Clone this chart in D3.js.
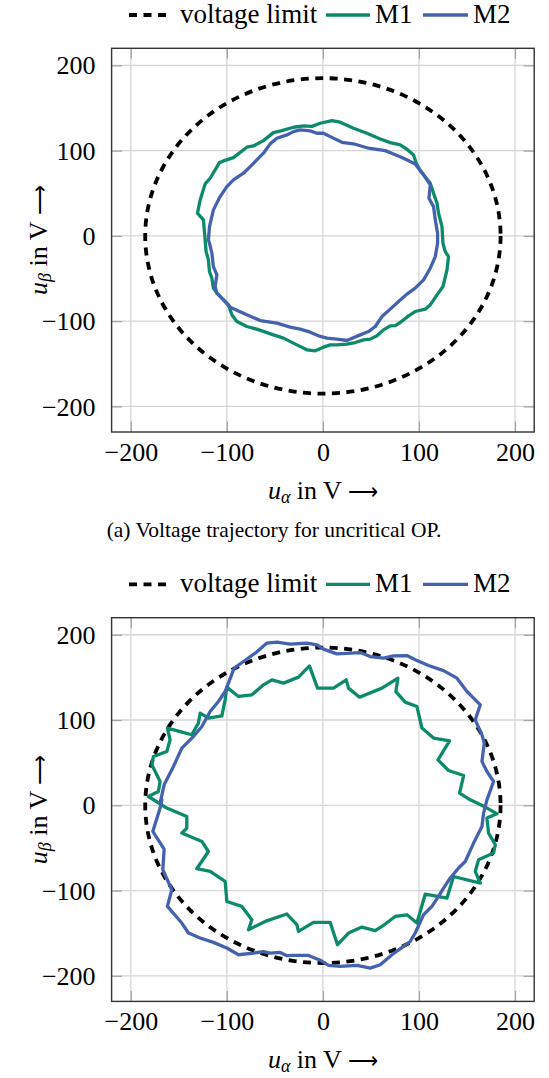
<!DOCTYPE html>
<html><head><meta charset="utf-8">
<script src="https://cdn.jsdelivr.net/npm/d3@7"></script>
<style>
html,body{margin:0;padding:0;background:#fff;}
svg{display:block;font-family:"Liberation Serif","Times New Roman",serif;}
svg text{font-family:"Liberation Serif","Times New Roman",serif;}
</style></head>
<body>
<script>
// ---- data ----
const xTicks = [-200, -100, 0, 100, 200];
const yTicks = [-200, -100, 0, 100, 200];
const xDomain = [-220, 220];
const yDomain = [-230, 220];
const voltageLimit = 185;
const seriesNames = ["voltage limit", "M1", "M2"];
const captionTop = "(a) Voltage trajectory for uncritical OP.";

// top panel: M1
const m1TopX = [-122.6,-124.4,-130.6,-127.8,-122.6,-117.4,-107.7,-103.5,-93.1,-79.2,-72.3,-61.9,-51.5,-42.7,-30.6,-20.2,-11.5,-2.8,9.4,18,31.9,45.8,59.7,70.1,80.5,87.5,94.4,97.2,101.4,111.8,115.2,118.8,120.4,124,125,127.4,130.8,129.2,125,118.8,111.8,106.6,96.1,89.2,80.5,75.3,70.1,63.1,56.3,49.3,42.3,33.6,25,14.6,7.6,0.6,-8,-16.7,-27.1,-41,-51.5,-68.8,-79.2,-89.6,-94.8,-98.3,-110.4,-114,-115.6,-118.1,-119.2,-121.6];
const m1TopY = [-4.7,18.8,26.6,42.2,61,67.6,85.9,87.9,91.8,104,105.5,111.7,121.1,123.4,127.4,129,128.4,132.1,135.2,133.3,126.3,120.4,113.7,109.4,106.7,101.6,95,85.2,76.6,61.8,50.1,38.3,26.6,10.9,-8.6,-18.4,-24.3,-39.9,-59.4,-69.2,-80.9,-85.9,-88.7,-93.8,-101.6,-105.2,-105.5,-110.2,-117.2,-121.1,-121.9,-125.1,-127,-127.8,-127.8,-130.5,-134.8,-133.6,-127.8,-119.9,-116.1,-109.4,-106.3,-100.5,-92.6,-80.9,-67.2,-61.3,-49.6,-41.9,-28.1,-18.4];
// top panel: M2
const m2TopX = [-119.2,-118.1,-114,-107,-100,-93.1,-82.7,-75.7,-68.8,-61.9,-54.9,-47.9,-37.5,-30.6,-23.6,-13.2,-6.2,0.6,7.6,19.8,33.6,47.5,64.9,73.5,84,96.1,104.8,111.8,110.4,115.2,117,119.4,119.4,117,111.8,104.8,96.1,87.5,78.8,70.1,61.5,54.5,47.5,38.9,25,14.6,4.2,-4.6,-13.2,-23.6,-34.1,-47.9,-65.3,-79.2,-96.6,-103.5,-110.4,-112.2,-110.4,-114,-115.6,-118.1];
const m2TopY = [-4.7,10.9,30.5,46.1,57.8,65.7,73.5,81.2,89.1,97,107.9,114.5,118.4,122.3,124.3,123.1,120.4,120.4,116.4,109.8,107.5,102.8,100,96.1,91.1,84.4,71.5,59.8,44.2,34.3,18.8,3.2,-8.6,-24.3,-37.9,-51.6,-61.3,-68.3,-77,-85.9,-94.6,-106.3,-112.2,-116.1,-122.7,-121.1,-119.9,-117.2,-112.9,-109.4,-107,-102.3,-99.3,-92.6,-83.6,-75,-67.2,-59.4,-45.7,-36,-20.3,-8.6];

// bottom panel: M1
const m1BotX = [-181.7,-171.3,-169.5,-178.1,-176.5,-162.5,-159.1,-161.9,-148.6,-136.5,-129.6,-127.8,-119.2,-105.2,-101.8,-100,-87.9,-74,-61.9,-53.1,-41,-25.4,-14,-5.6,11,24.3,26.7,38.1,61.5,78.1,76,85.7,97.9,103.1,115.2,131.9,119.8,130.8,146.5,142.3,153.4,169.1,181.3,170.8,172.5,179.5,177.7,162.1,158.6,163.9,136,129.2,106.6,97.9,87.5,75.3,61.5,54.5,40.6,26.7,15.2,7.6,-9.8,-25.4,-27.1,-37.5,-60.1,-77.5,-74,-84.4,-100,-101.8,-117.4,-131.3,-119.2,-126,-146.9,-141.7,-141.7,-162.5];
const m1BotY = [10.3,16.2,27.9,47.5,57.2,63.1,76.8,90.5,86.5,82.7,96.4,108.1,102.2,104.9,123.7,138.6,127.6,129.5,141.3,147.1,143.3,150.3,163.5,137.4,137.4,147.1,137.4,126.8,137.4,149.1,133.4,121,115.8,90.5,78.8,75.6,53.3,40.8,34.9,14.3,6.4,-2.1,-10,-15,-32.6,-46.3,-56,-63.9,-77.6,-91.2,-83.5,-108.8,-104.1,-138.1,-128.4,-130.4,-142.1,-147.1,-142.8,-149.8,-163.5,-137.4,-137.4,-147.9,-140.1,-127.5,-136.2,-146,-134.2,-118.6,-112.8,-89.3,-77.6,-74.4,-54.2,-42.4,-32.6,-26.7,-13.1,-3.3];
// bottom panel: M2
const m2BotX = [-167.7,-169.5,-177.1,-165.3,-166.7,-157.3,-161.9,-146.9,-140,-127.8,-114,-100,-87.9,-72.3,-61.9,-54.9,-44.5,-37.5,-30.6,-15,-2.8,5.8,18,35.4,49.3,59.7,71.9,84,90.9,96.1,104.8,113.5,120.4,125.6,132.6,141.3,148.2,156.9,165.6,167.3,170.8,177.7,170.8,165.6,168,165.6,158.6,163.9,150,139.6,125.6,110,96.1,87.5,73.5,63.1,49.3,38.9,14.6,0.6,-6.2,-16.7,-34.1,-47.9,-58.3,-70.5,-82.7,-92.4,-101.8,-108.8,-117.4,-126,-134.8,-146.9,-155.6,-165.3,-169.5];
const m2BotY = [6.4,-3.3,-30.7,-51.3,-75.6,-99.1,-118.6,-138.1,-149.8,-155.7,-160.8,-167.4,-175.3,-173.3,-171.7,-173.3,-172.6,-176.4,-176.1,-176.1,-181.7,-187.8,-189,-187.8,-190.9,-187,-175.3,-165.5,-159.7,-149.8,-128.4,-118.6,-106.9,-97.1,-85.3,-73.6,-65.9,-44.3,-24.9,-9.1,6.4,27.9,39.6,51.3,72.9,82.6,100.2,117.8,133.4,149.1,158,163.9,170.6,175.6,175.3,172.6,174.4,179.1,177.6,183.1,188.2,190.2,189,191.3,190.2,178.4,168.6,160.8,133.4,121.7,110,92.4,80.7,67.1,45.5,24,2.6];

// ---- styles ----
const GREEN = "#0c8a6b", BLUE = "#4562ae";
const W = 549, H = 1078;
const svg = d3.select("body").append("svg").attr("width", W).attr("height", H)
  .attr("font-family", "Liberation Serif");

const fmt = d => d < 0 ? "\u2212" + Math.abs(d) : String(d);

function axisLabel(g, sub) {
  g.append("tspan").attr("font-style", "italic").text("u");
  g.append("tspan").attr("font-style", "italic").attr("font-size", 18).attr("dy", 4).text(sub);
  g.append("tspan").attr("dy", -4).text(" in V ");
  g.append("tspan").attr("font-family", "DejaVu Sans").attr("font-weight", 300)
    .attr("font-size", 21).text("\u27f6");
}

function panel(offY, m1x, m1y, m2x, m2y, caption) {
  const g = svg.append("g").attr("transform", `translate(0,${offY})`);
  const L = 111.6, R = 534.2, T = 48.3, B = 432;
  const x = d3.scaleLinear().domain(xDomain).range([L, R]);
  const y = d3.scaleLinear().domain(yDomain).range([B, T]);

  // grid
  g.append("g").selectAll("line").data(xTicks).join("line")
    .attr("x1", d => x(d)).attr("x2", d => x(d)).attr("y1", T).attr("y2", B)
    .attr("stroke", "#d6d6d6").attr("stroke-width", 1.3);
  g.append("g").selectAll("line").data(yTicks).join("line")
    .attr("y1", d => y(d)).attr("y2", d => y(d)).attr("x1", L).attr("x2", R)
    .attr("stroke", "#d6d6d6").attr("stroke-width", 1.3);

  // axes (inward ticks on all sides)
  const tl = 10.5;
  const axB = g.append("g").attr("transform", `translate(0,${B})`)
    .call(d3.axisBottom(x).tickValues(xTicks).tickSize(-tl).tickFormat(fmt).tickPadding(15));
  const axT = g.append("g").attr("transform", `translate(0,${T})`)
    .call(d3.axisTop(x).tickValues(xTicks).tickSize(-tl).tickFormat(""));
  const axL = g.append("g").attr("transform", `translate(${L},0)`)
    .call(d3.axisLeft(y).tickValues(yTicks).tickSize(-tl).tickFormat(fmt).tickPadding(16));
  const axR = g.append("g").attr("transform", `translate(${R},0)`)
    .call(d3.axisRight(y).tickValues(yTicks).tickSize(-tl).tickFormat(""));
  [axB, axT, axL, axR].forEach(a => {
    a.attr("font-family", "Liberation Serif");
    a.select(".domain").remove();
    a.selectAll(".tick line").attr("stroke", "#a6a6a6").attr("stroke-width", 1.3);
    a.selectAll("text").attr("font-family", "Liberation Serif").attr("font-size", 26).attr("fill", "#000");
  });
  axB.selectAll("text").attr("dy", null).attr("y", 29);
  axL.selectAll("text").attr("dy", "0.33em");

  // voltage limit (circle of given radius in data units)
  g.append("ellipse")
    .attr("cx", x(0)).attr("cy", y(0))
    .attr("rx", x(voltageLimit) - x(0)).attr("ry", y(0) - y(voltageLimit))
    .attr("fill", "none").attr("stroke", "#000").attr("stroke-width", 3.8)
    .attr("stroke-dasharray", "8,6.5");

  const line = d3.line().x(d => x(d[0])).y(d => y(d[1])).curve(d3.curveLinearClosed);
  g.append("path").datum(d3.zip(m1x, m1y)).attr("d", line)
    .attr("fill", "none").attr("stroke", GREEN).attr("stroke-width", 3.3).attr("stroke-linejoin", "round");
  g.append("path").datum(d3.zip(m2x, m2y)).attr("d", line)
    .attr("fill", "none").attr("stroke", BLUE).attr("stroke-width", 3.3).attr("stroke-linejoin", "round");

  // frame
  g.append("rect").attr("x", L).attr("y", T).attr("width", R - L).attr("height", B - T)
    .attr("fill", "none").attr("stroke", "#333").attr("stroke-width", 1.4);

  // x label
  const xl = g.append("text").attr("x", (L + R) / 2).attr("y", 499)
    .attr("text-anchor", "middle").attr("font-size", 26);
  axisLabel(xl, "\u03b1");

  // y label
  const yl = g.append("text").attr("transform", `translate(47,${(T + B) / 2}) rotate(-90)`)
    .attr("text-anchor", "middle").attr("font-size", 26);
  axisLabel(yl, "\u03b2");

  // legend
  const lg = g.append("g").attr("font-size", 27);
  const ly = 15, tb = 23;
  lg.append("line").attr("x1", 129).attr("x2", 171).attr("y1", ly).attr("y2", ly)
    .attr("stroke", "#000").attr("stroke-width", 3.8).attr("stroke-dasharray", "8,6.5");
  lg.append("text").attr("x", 180).attr("y", tb).text(seriesNames[0]);
  lg.append("line").attr("x1", 326).attr("x2", 370).attr("y1", ly).attr("y2", ly)
    .attr("stroke", GREEN).attr("stroke-width", 3.3);
  lg.append("text").attr("x", 375).attr("y", tb).text(seriesNames[1]);
  lg.append("line").attr("x1", 423).attr("x2", 468).attr("y1", ly).attr("y2", ly)
    .attr("stroke", BLUE).attr("stroke-width", 3.3);
  lg.append("text").attr("x", 473).attr("y", tb).text(seriesNames[2]);

  if (caption) {
    g.append("text").attr("x", 274).attr("y", 537).attr("text-anchor", "middle")
      .attr("font-size", 21.5).text(caption);
  }
}

panel(0, m1TopX, m1TopY, m2TopX, m2TopY, captionTop);
panel(569.4, m1BotX, m1BotY, m2BotX, m2BotY, null);
</script>
</body></html>
